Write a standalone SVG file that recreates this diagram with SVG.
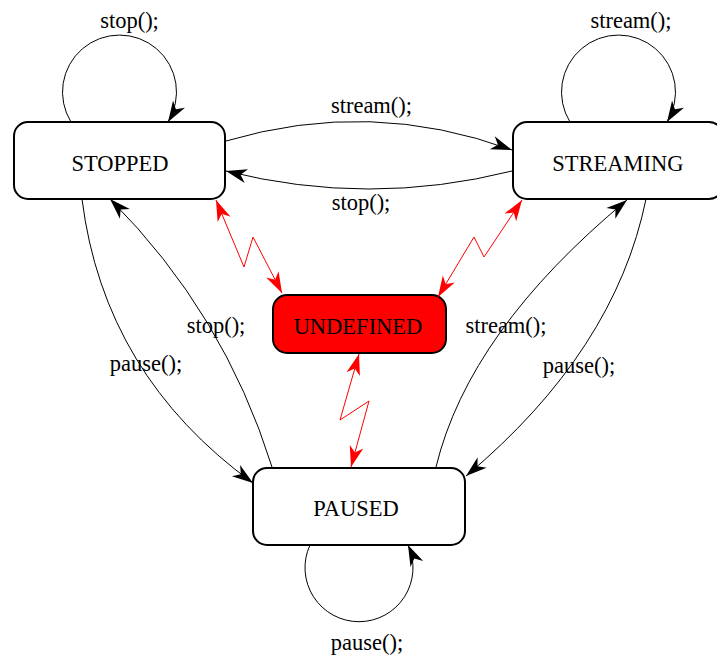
<svg xmlns="http://www.w3.org/2000/svg" width="717" height="656" viewBox="0 0 717 656">
  <style>
    .node { fill: #ffffff; stroke: #000000; stroke-width: 2; }
    .node.undef { fill: #ff0000; }
    .label { font-family: "Liberation Serif", "Times New Roman", serif; font-size: 22.5px; fill: #000000; text-anchor: middle; }
    .edge { fill: none; stroke: #000000; stroke-width: 1; marker-end: url(#arrow); }
    .zig { fill: none; stroke: #ff0000; stroke-width: 1; marker-start: url(#arrowRed); marker-end: url(#arrowRed); }
  </style>
  <defs>
    <marker id="arrow" viewBox="-22 -8 23 16" refX="0" refY="0" markerWidth="23" markerHeight="16" markerUnits="userSpaceOnUse" orient="auto">
      <path d="M0,0 L-21,-7 L-15,0 L-21,7 Z" fill="#000000"/>
    </marker>
    <marker id="arrowRed" viewBox="-22 -8 23 16" refX="0" refY="0" markerWidth="23" markerHeight="16" markerUnits="userSpaceOnUse" orient="auto-start-reverse">
      <path d="M0,0 L-21,-7 L-15,0 L-21,7 Z" fill="#ff0000"/>
    </marker>
  </defs>

  <!-- state nodes -->
  <g id="stopped">
    <rect class="node" x="14" y="122" width="211" height="77" rx="14" ry="14"/>
    <text class="label" x="120" y="170.5">STOPPED</text>
  </g>
  <g id="streaming">
    <rect class="node" x="513" y="122" width="210" height="77" rx="14" ry="14"/>
    <text class="label" x="618" y="170.5">STREAMING</text>
  </g>
  <g id="undefined">
    <rect class="node undef" x="273" y="295" width="173" height="58" rx="14" ry="14"/>
    <text class="label" x="358" y="334">UNDEFINED</text>
  </g>
  <g id="paused">
    <rect class="node" x="253" y="468" width="212" height="77" rx="14" ry="14"/>
    <text class="label" x="356" y="516">PAUSED</text>
  </g>

  <!-- transitions -->
  <g id="connectors">
    <path class="edge" d="M71,122 A57,57 0 1 1 168,122"/>
    <path class="edge" d="M570,122 A57,57 0 1 1 667,122"/>
    <path class="edge" d="M310,545 A54,54 0 1 0 408,545"/>
    <path class="edge" d="M226,141 Q371,98 512,150"/>
    <path class="edge" d="M512,171 Q369,207 226,171"/>
    <path class="edge" d="M82,199 Q104,375 253,483"/>
    <path class="edge" d="M272,467 Q224,313 110,199"/>
    <path class="edge" d="M436,467 Q469,331 627,200"/>
    <path class="edge" d="M646,199 Q615,351 466,476"/>
    <polyline class="zig" points="216,200 244,267 253,237 282,293"/>
    <polyline class="zig" points="522,200 484,257 474,237 438,297"/>
    <polyline class="zig" points="359,354 340,420 369,401 351,467"/>
  </g>

  <!-- transition labels -->
  <g id="labels">
    <text class="label" x="129.5" y="28">stop();</text>
    <text class="label" x="631" y="28">stream();</text>
    <text class="label" x="371.5" y="113">stream();</text>
    <text class="label" x="361" y="210">stop();</text>
    <text class="label" x="216" y="333">stop();</text>
    <text class="label" x="146" y="371">pause();</text>
    <text class="label" x="506" y="333">stream();</text>
    <text class="label" x="579" y="373">pause();</text>
    <text class="label" x="367" y="650">pause();</text>
  </g>
</svg>
